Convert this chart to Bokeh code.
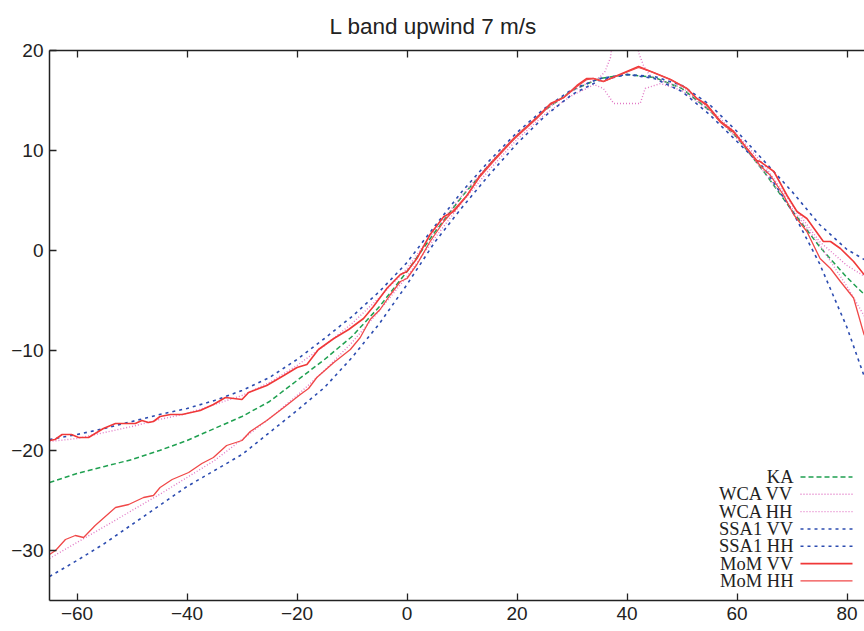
from bokeh.plotting import figure
from bokeh.models import Range1d, FixedTicker, LinearAxis, Label, Arrow
from bokeh.embed import file_html
from bokeh.resources import INLINE

# ---------------- data ----------------
grid5 = [-65, -60, -55, -50, -45, -40, -35, -30, -25, -20, -15, -10, -5, 0, 5,
         10, 15, 20, 25, 30, 35, 40, 45, 50, 55, 60, 65, 70, 75, 80, 85]

ka_x = grid5
ka_y = [-23.2, -22.3, -21.6, -20.9, -20.0, -19.0, -17.8, -16.6, -15.1, -13.0, -10.9,
        -8.6, -5.6, -2.1, 1.8, 5.4, 8.6, 11.5, 14.0, 16.0, 17.2, 17.6, 17.3, 16.2,
        14.0, 11.3, 7.8, 4.0, 0.4, -2.7, -5.4]

wca_vv_x = [-65, -60, -55, -50, -45, -40, -35, -30, -25, -20, -15, -10, -5, 0, 5, 10,
            15, 20, 25, 30, 33, 35, 36, 37, 37.8, 41.8, 42.1, 43, 44, 45, 50, 55, 60,
            65, 70, 75, 80, 85]
wca_vv_y = [-19.1, -18.8, -18.2, -17.6, -16.9, -16.3, -15.4, -14.5, -13.2, -11.5, -9.5,
            -7.3, -4.7, -1.8, 2.0, 5.5, 8.7, 11.6, 14.0, 15.9, 16.8, 17.3, 17.9, 19.3,
            23.0, 23.0, 19.8, 18.5, 17.6, 17.2, 16.3, 14.2, 11.6, 8.5, 4.6, 0.9, -1.5,
            -3.2]

wca_hh_x = [-65, -60, -55, -50, -45, -40, -35, -30, -25, -20, -15, -10, -5, 0, 5, 10,
            15, 20, 25, 30, 33, 34, 35.7, 37.6, 42.4, 43.3, 46.1, 50, 55, 60, 65, 70,
            75, 80, 85]
wca_hh_y = [-30.8, -29.2, -27.6, -26.0, -24.4, -22.7, -21.0, -18.9, -16.8, -14.5, -12.0,
            -9.2, -6.0, -2.6, 1.2, 4.8, 8.1, 11.1, 13.6, 15.5, 16.3, 16.6, 16.2, 14.7,
            14.7, 16.2, 16.7, 16.0, 14.0, 11.2, 7.8, 4.2, 0.6, -3.6, -8.3]

ssa_vv_x = grid5
ssa_vv_y = [-18.9, -18.4, -17.8, -17.1, -16.4, -15.8, -15.0, -14.0, -12.7, -10.9, -8.8,
            -6.6, -4.1, -1.2, 2.4, 5.9, 9.0, 11.8, 14.2, 16.1, 17.2, 17.6, 17.4, 16.5,
            14.6, 11.9, 8.9, 5.9, 2.6, 0.1, -1.5]

ssa_hh_x = grid5
ssa_hh_y = [-32.6, -31.0, -29.3, -27.4, -25.5, -23.6, -22.0, -20.4, -18.2, -16.0, -13.7,
            -10.7, -7.3, -3.4, 0.8, 4.3, 7.6, 10.7, 13.4, 15.6, 17.0, 17.6, 17.2, 15.9,
            13.6, 10.9, 8.2, 4.0, -1.3, -7.7, -15.5]

mom_vv_x = [-65, -64, -62.7, -61, -59.7, -57.9, -55.2, -53.0, -49.4, -48.2, -47.0, -46.1,
            -44.9, -43.0, -40.9, -37.6, -35.2, -33.0, -30.0, -28.8, -25.5, -22.4, -20.0,
            -18.2, -16.1, -13.3, -10.6, -7.9, -6.1, -3.6, -1.2, 0, 1.8, 4.2, 6.7, 8.5,
            10.9, 13.3, 15.7, 19.4, 23.6, 26.1, 28.5, 30.9, 32.7, 33.9, 35.7, 42.1, 44.8,
            47.9, 50.9, 52.7, 54.5, 57.0, 59.4, 61.8, 63.6, 64.2, 66.7, 69.1, 70.9, 72.7,
            75.7, 77.0, 78.8, 81.2, 83.1, 85]
mom_vv_y = [-19.0, -18.9, -18.4, -18.4, -18.7, -18.7, -17.8, -17.3, -17.3, -17.0, -17.2,
            -17.1, -16.6, -16.4, -16.4, -16.0, -15.4, -14.7, -14.9, -14.2, -13.5, -12.5,
            -11.7, -11.4, -9.9, -8.8, -7.9, -6.8, -5.6, -3.75, -2.4, -2.1, -0.8, 1.6, 3.4,
            3.9, 5.5, 7.5, 9.0, 11.2, 13.3, 14.7, 15.3, 16.5, 17.2, 17.2, 16.9, 18.4, 17.8,
            17.1, 16.2, 15.2, 14.6, 12.9, 11.9, 10.2, 9.0, 8.9, 7.9, 5.5, 3.9, 3.2, 0.9,
            0.9, 0.2, -1.1, -2.4, -3.5]

mom_hh_x = [-65, -63.9, -62.1, -60.3, -58.8, -56.7, -53.0, -50.6, -47.9, -46.1, -44.9,
            -42.7, -39.7, -37.3, -35.2, -32.8, -30.0, -28.5, -25.5, -22.4, -19.4, -17.9,
            -16.4, -13.3, -10.3, -8.5, -6.7, -4.9, -3.0, -1.2, 0, 1.8, 4.2, 6.7, 8.5, 10.9,
            13.3, 15.7, 19.4, 23.6, 26.1, 28.5, 30.9, 32.7, 33.9, 35.7, 42.1, 44.8, 47.9,
            50.9, 52.7, 54.5, 57.0, 59.4, 61.8, 63.6, 64.2, 66.1, 68.5, 70.3, 72.7, 75.1,
            77.0, 78.8, 81.2, 83.1, 85]
mom_hh_y = [-30.4, -30.0, -28.9, -28.5, -28.7, -27.5, -25.7, -25.4, -24.7, -24.5, -23.7,
            -22.9, -22.2, -21.3, -20.7, -19.5, -19.0, -18.1, -17.0, -15.7, -14.4, -13.8,
            -12.7, -11.2, -9.9, -8.7, -6.9, -5.9, -4.4, -3.1, -2.8, -1.4, 0.9, 2.9, 4.05,
            5.5, 7.4, 8.9, 11.1, 13.2, 14.6, 15.3, 16.4, 17.1, 17.2, 16.9, 18.3, 17.8, 17.1,
            16.2, 15.2, 14.5, 12.8, 11.8, 10.2, 8.9, 8.5, 7.5, 5.5, 3.6, 1.9, -0.8, -1.8,
            -3.1, -4.75, -8.4, -10.5]

x_ticks = [-60, -40, -20, 0, 20, 40, 60, 80]
y_ticks = [-30, -20, -10, 0, 10, 20]
series_names = ["KA", "WCA VV", "WCA HH", "SSA1 VV", "SSA1 HH", "MoM VV", "MoM HH"]
title_text = "L band upwind 7 m/s"

# ---------------- layout / style ----------------
W, H = 864, 631
BL, BT, BB = 49, 48, 31
X0, X1 = -65.0, -65.0 + (W - BL) / 5.5
Y0, Y1 = -35.0, 20.0

def px2x(px):
    return X0 + (px - BL) / (W - BL) * (X1 - X0)

def py2y(py):
    return Y1 - (py - BT) / (H - BT - BB) * (Y1 - Y0)

styles = [
    ("#1fa050", "5 3", 1.5),
    ("#e27ac6", "1 2", 1.4),
    ("#e27ac6", "1 2", 1.4),
    ("#2c4cb0", "3 4", 1.6),
    ("#2c4cb0", "3 4", 1.6),
    ("#f03838", "solid", 1.6),
    ("#f04848", "solid", 1.3),
]
data = [(ka_x, ka_y), (wca_vv_x, wca_vv_y), (wca_hh_x, wca_hh_y),
        (ssa_vv_x, ssa_vv_y), (ssa_hh_x, ssa_hh_y),
        (mom_vv_x, mom_vv_y), (mom_hh_x, mom_hh_y)]

p = figure(width=W, height=H, output_backend="svg", toolbar_location=None,
           x_range=Range1d(X0, X1), y_range=Range1d(Y0, Y1),
           x_axis_type=None, y_axis_type=None,
           min_border_left=BL, min_border_right=0, min_border_top=BT,
           min_border_bottom=BB)
p.outline_line_color = None
p.background_fill_color = "white"
p.border_fill_color = "white"

p.title.text = title_text
p.title.align = "left"
p.title.offset = 280
p.title.standoff = 23
p.title.text_font = "Liberation Sans"
p.title.text_font_style = "normal"
p.title.text_font_size = "22.5px"
p.title.text_color = "#222222"

def style_axis(ax, labels=True):
    ax.axis_line_color = "#222222"
    ax.axis_line_width = 1.5
    ax.major_tick_line_color = "#222222"
    ax.major_tick_line_width = 1.3
    ax.major_tick_in = 7
    ax.major_tick_out = 0
    ax.minor_tick_line_color = None
    ax.major_label_text_font = "Liberation Sans"
    ax.major_label_text_font_size = "19px" if labels else "0px"
    ax.major_label_text_color = "#222222"
    ax.major_label_standoff = 6

def lab(v):
    return ("\u2212" + str(-v)) if v < 0 else str(v)

xb = LinearAxis(ticker=FixedTicker(ticks=x_ticks),
                major_label_overrides={t: lab(t) for t in x_ticks})
style_axis(xb)
p.add_layout(xb, "below")

xt = LinearAxis(ticker=FixedTicker(ticks=x_ticks),
                major_label_overrides={t: "" for t in x_ticks})
style_axis(xt, labels=False)
xt.major_label_standoff = 0
p.add_layout(xt, "above")

yl = LinearAxis(ticker=FixedTicker(ticks=y_ticks),
                major_label_overrides={t: lab(t) for t in y_ticks})
style_axis(yl)
p.add_layout(yl, "left")

for (xs, ys), (col, dash, lw) in zip(data, styles):
    p.line(xs, ys, line_color=col, line_dash=dash, line_width=lw)

# legend (gnuplot style: text then sample)
for i, (name, (col, dash, lw)) in enumerate(zip(series_names, styles)):
    yy = py2y(476 + i * 17.4)
    p.add_layout(Label(x=px2x(793), y=yy, text=name, text_align="right",
                       text_baseline="middle", text_font="Liberation Serif",
                       text_font_size="18.5px", text_color="#222222"))
    p.add_layout(Arrow(end=None, x_start=px2x(800), y_start=yy, x_end=px2x(852),
                       y_end=yy, line_color=col, line_dash=dash, line_width=lw))

open("out.html", "w").write(file_html(p, INLINE))
